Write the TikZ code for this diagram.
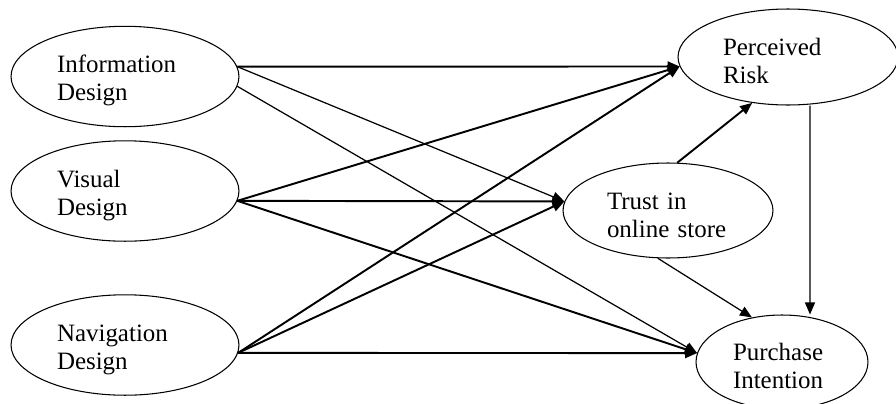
\documentclass[tikz,border=0pt]{standalone}
\usepackage{fontspec}
\setmainfont{Liberation Serif}
\usepackage{tikz}
\usetikzlibrary{positioning, shapes, arrows.meta}

\begin{document}
\begin{tikzpicture}[x=.02cm, y=-.02cm, ->, >={Triangle[length=.24cm,width=.2cm]}, line width=1.1pt,
    construct/.style={draw, ellipse, line width=.6pt, align=left, text height=.52cm,
      font=\fontsize{14.2}{15.9}\selectfont},
    weak/.style={line width=.7pt}]
  \useasboundingbox (0,0) rectangle (896,403);
  % design constructs
  \node[construct, minimum width=4.56cm, minimum height=1.94cm, text width=2.72cm] (info) at (125,76.5) {Information\\Design};
  \node[construct, minimum width=4.56cm, minimum height=1.94cm, text width=2.72cm] (visual) at (125,191) {Visual\\Design};
  \node[construct, minimum width=4.56cm, minimum height=1.94cm, text width=2.72cm] (nav) at (125,345) {Navigation\\Design};
  % mediators and outcome
  \node[construct, minimum width=4.4cm, minimum height=1.92cm, text width=2.6cm] (risk) at (788,57) {Perceived\\Risk};
  \node[construct, minimum width=4.2cm, minimum height=1.9cm, text width=2.44cm] (trust) at (668,210.5) {Trust in\\online store};
  \node[construct, minimum width=3.44cm, minimum height=1.88cm, text width=1.96cm] (purchase) at (782,362) {Purchase\\Intention};
  \path
    (info.5) edge (risk.185)
    (visual.-5) edge (risk.185)
    (nav.-4) edge (risk.185)
    (visual.-5) edge (trust.175)
    (nav.-4) edge (trust.175)
    (visual.-5) edge (purchase.174)
    (nav.-4) edge (purchase.174)
    (trust.79) edge (risk.232);
  \path[weak]
    (info.5) edge (trust.175)
    (info.-5) edge (purchase.174)
    (trust.258) edge (purchase.124)
    ([xshift=.44cm]risk.south) edge ([xshift=.56cm]purchase.north);
\end{tikzpicture}
\end{document}
